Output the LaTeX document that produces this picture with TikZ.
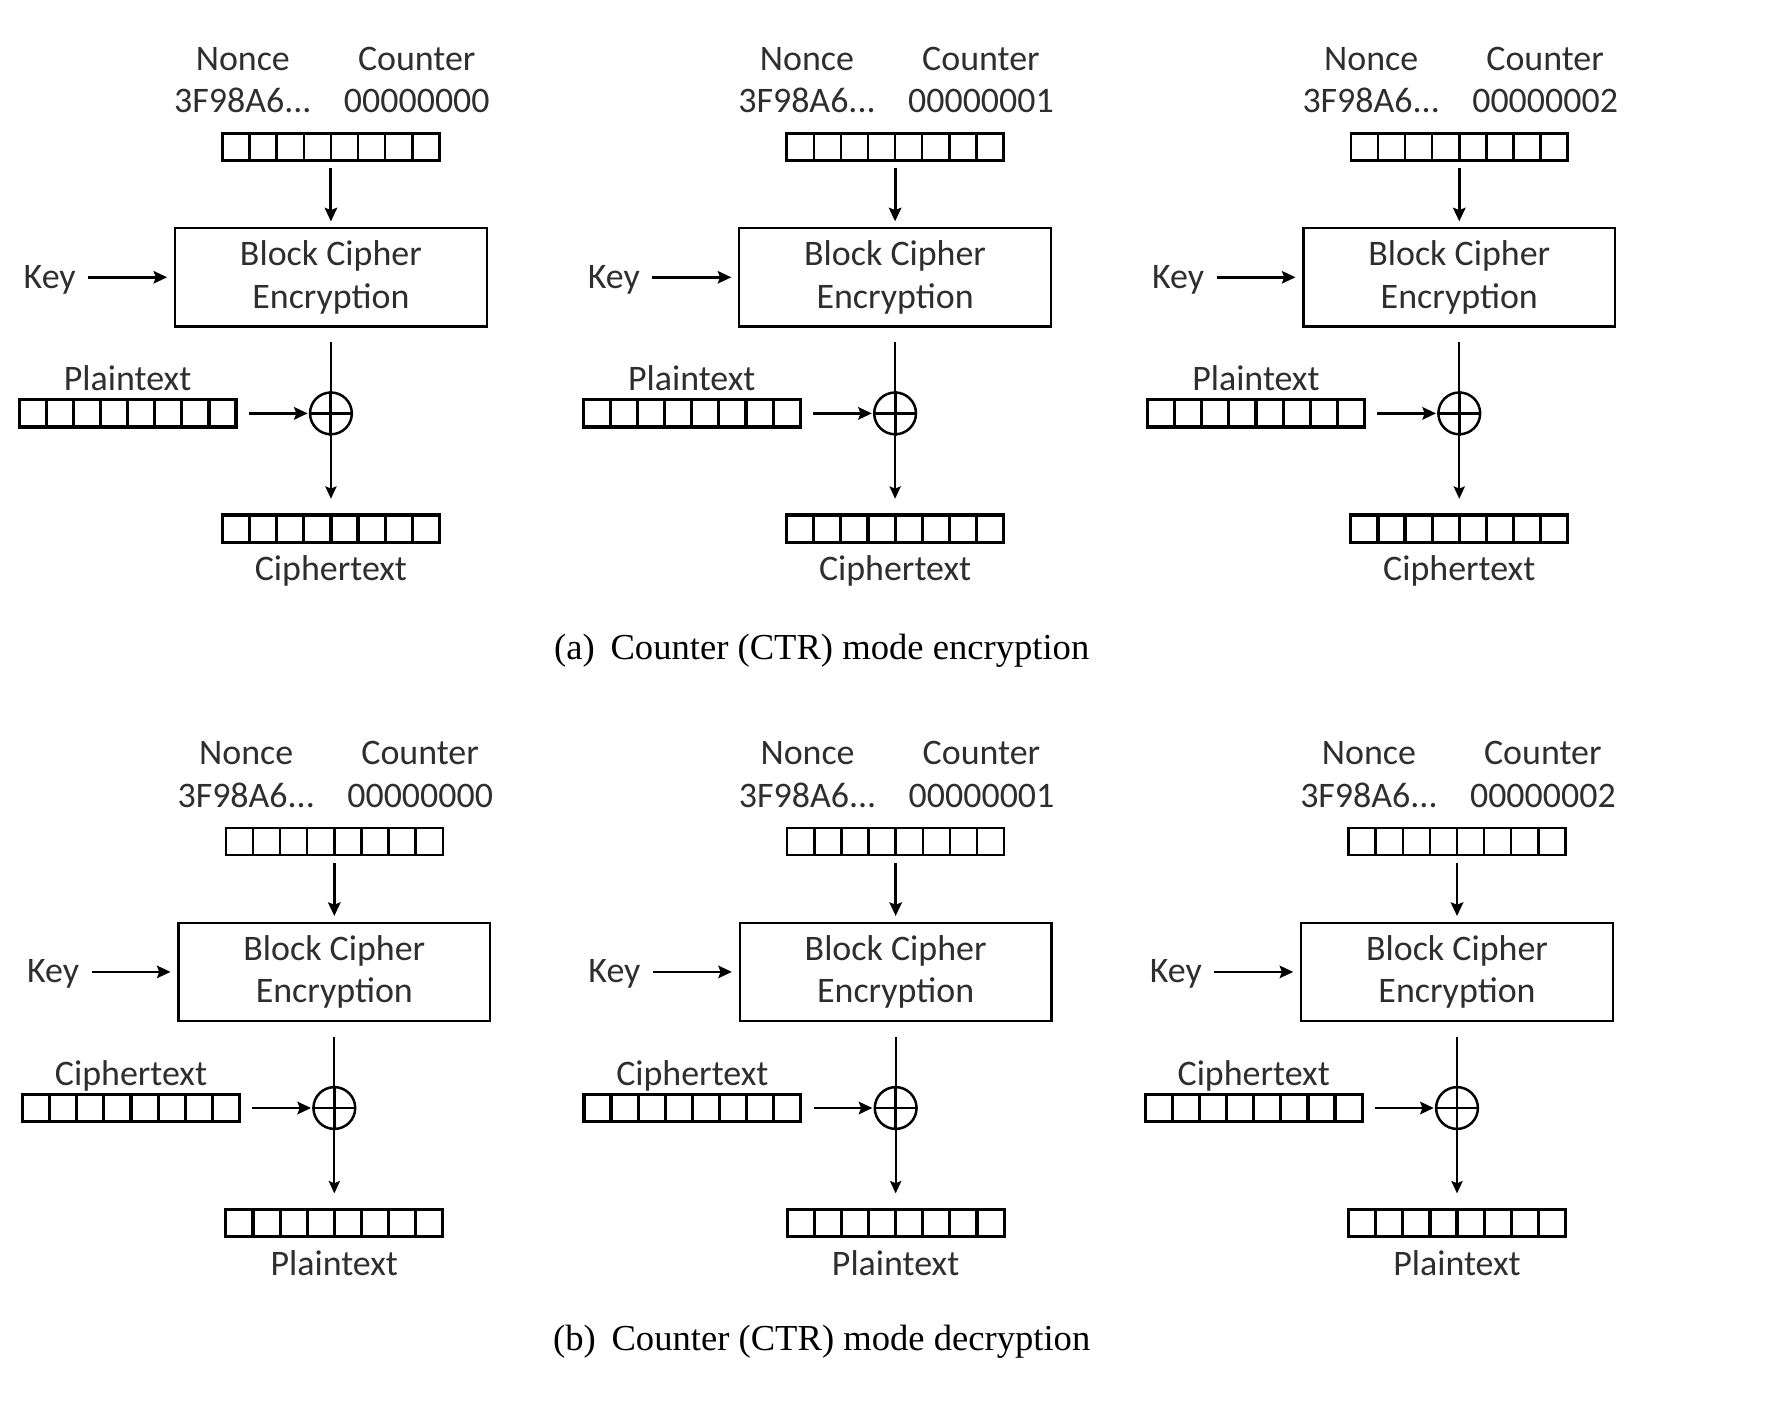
\documentclass[tikz,border=0pt]{standalone}
\usepackage{fontspec}
\setmainfont{Carlito}
\newfontfamily\capfont{Liberation Serif}
\usetikzlibrary{arrows.meta}
\tikzset{
  lbl/.style={font=\fontsize{31.8}{38}\selectfont, text=black!82, inner sep=0pt, anchor=base},
  reg/.style={draw, line width=#1, minimum width=192pt, minimum height=24pt, inner sep=0pt,
    path picture={\foreach \i in {1,...,7}{\draw[line width=#1] ([xshift=\i*24pt]path picture bounding box.south west) -- ([xshift=\i*24pt]path picture bounding box.north west);}}},
  reg/.default=2.6pt,
  cipherbox/.style={draw, line width=2pt, minimum width=276pt, minimum height=87pt, align=center,
    font=\fontsize{31.8}{38}\selectfont, text=black!82, inner sep=0pt},
  arr/.style={-{Stealth[length=12pt,width=11pt,inset=2pt]}, line width=2.6pt},
  thinarr/.style={-{Stealth[length=11pt,width=10pt,inset=2pt]}, line width=1.7pt},
  xorc/.style={circle, draw, line width=2.2pt, minimum size=37pt, inner sep=0pt},
  captxt/.style={font=\capfont\fontsize{32.4}{38}\selectfont, inner sep=0pt, anchor=base}
}
\newcommand\ctrpanel[6]{%
\begin{scope}[shift={(#1,#2)}]
  \node[lbl] (#3nl) at (215,62) {Nonce};
  \node[lbl] (#3cl) at (369,62) {Counter};
  \node[lbl] (#3nv) at (215,100) {3F98A6...};
  \node[lbl] (#3cv) at (369,100) {#4};
  \node[reg=2.2pt] (#3top) at (293,130) {};
  \node[cipherbox] (#3box) at (293,245.5) {Block Cipher\\Encryption};
  \node[lbl] (#3key) at (44,255) {Key};
  \node[reg=2.8pt] (#3in) at (113,366) {};
  \node[lbl] (#3inl) at (113,346) {#5};
  \node[xorc] (#3x) at (293,366) {};
  \node[reg=2.8pt] (#3out) at (293,468) {};
  \node[lbl] (#3outl) at (293,514) {#6};
  \draw[arr, shorten <=6pt, shorten >=5pt] (#3top.south) -- (#3box.north);
  \draw[arr, line width=2.2pt, shorten <=11pt, shorten >=6pt] (#3key.east |- #3box.west) -- (#3box.west);
  \draw[arr, shorten <=10pt, shorten >=1pt] (#3in.east) -- (#3x.west);
  \draw[line width=1.7pt, shorten <=13pt] (#3box.south) -- (#3x.north);
  \draw[line width=2.6pt] (#3x.north) -- (#3x.south);
  \draw[line width=2.6pt] (#3x.west) -- (#3x.east);
  \draw[thinarr, shorten >=13pt] (#3x.south) -- (#3out.north);
\end{scope}}
\begin{document}
\begin{tikzpicture}[x=1pt,y=-1pt]
\useasboundingbox (0,0) rectangle (1568,1255);
\ctrpanel{0}{0}{aa}{00000000}{Plaintext}{Ciphertext}
\ctrpanel{499.5}{0}{ab}{00000001}{Plaintext}{Ciphertext}
\ctrpanel{999}{0}{ac}{00000002}{Plaintext}{Ciphertext}
\ctrpanel{3}{615}{ba}{00000000}{Ciphertext}{Plaintext}
\ctrpanel{500}{615}{bb}{00000001}{Ciphertext}{Plaintext}
\ctrpanel{997}{615}{bc}{00000002}{Ciphertext}{Plaintext}
\node[captxt] (capa) at (727.5,584) {(a)\hspace{14pt}Counter (CTR) mode encryption};
\node[captxt] (capb) at (727.5,1196) {(b)\hspace{14pt}Counter (CTR) mode decryption};
\end{tikzpicture}
\end{document}
